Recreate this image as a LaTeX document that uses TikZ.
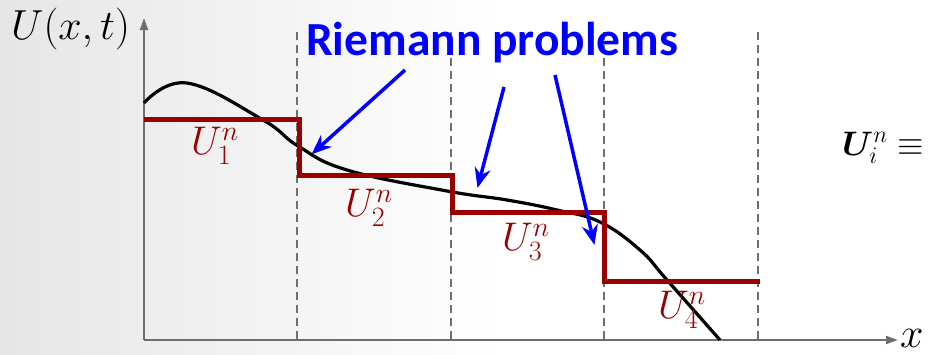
\RequirePackage{fix-cm}
\documentclass[tikz,border=0pt]{standalone}
\usepackage{amsmath,bm}
\usepackage{fontspec}
\newfontfamily\rpfont{Carlito}
\definecolor{cellred}{HTML}{9A0000}
\definecolor{rpblue}{HTML}{0000FF}
\definecolor{axgray}{HTML}{6E6E6E}
\usetikzlibrary{arrows.meta,calc}
\tikzset{
  ax_arr/.style={-{Triangle[length=12pt,width=8pt]},draw=axgray,line width=2pt},
  cell_dash/.style={draw=axgray,line width=1.8pt,dash pattern=on 8pt off 5pt},
  stair/.style={draw=cellred,line width=5pt,line join=miter},
  curve_ln/.style={draw=black,line width=3.2pt},
  cell_lbl/.style={text=cellred,inner sep=0pt,font=\fontsize{40}{44}\selectfont},
  rp_lbl/.style={text=rpblue,inner sep=0pt,font=\fontsize{47.5}{50}\selectfont\rpfont\bfseries},
  arr_rp/.style={-{Stealth[length=20pt,width=16pt]},draw=rpblue,line width=3.5pt,shorten >=-2pt},
}

\begin{document}
\begin{tikzpicture}[x=1pt,y=-1pt]
  \useasboundingbox (0,0) rectangle (934,354);
  \shade[left color=black!10,right color=white] (0,0) rectangle (500,354);
  \fill[white] (500,0) rectangle (934,354);

  % axes
  \coordinate (o) at (144,340);
  \coordinate (ytip) at (144,18);
  \coordinate (xtip) at (898,340);
  \draw[ax_arr] (o) -- (ytip);
  \draw[ax_arr] (o) -- (xtip);
  \node[inner sep=0pt,anchor=base west,font=\fontsize{42}{46}\selectfont] (ylab) at (11,39) {$U(x,t)$};
  \node[inner sep=0pt,anchor=base west,font=\fontsize{42}{46}\selectfont] (xlab) at (900,347) {$x$};

  % cell interfaces
  \foreach \xi in {297,451,604,758}
    \draw[cell_dash] (\xi,32) -- (\xi,340);

  % exact solution
  \draw[curve_ln] plot[smooth,tension=0.7] coordinates {(144,103) (187,83) (263,120) (298,146)
    (347,170) (447,191) (507,200) (557,210) (600,222) (640,250) (667,280) (720,340)};

  % cell averages
  \draw[stair] (144,119) -- (299,119) -- (299,175) -- (452,175) -- (452,212)
    -- (604,212) -- (604,281) -- (760,281);
  \node[cell_lbl] (c1) at (215,146) {$U_1^n$};
  \node[cell_lbl] (c2) at (369,208) {$U_2^n$};
  \node[cell_lbl] (c3) at (526,242) {$U_3^n$};
  \node[cell_lbl] (c4) at (682,310) {$U_4^n$};

  % Riemann problems
  \node[rp_lbl,anchor=base west] (rp) at (306,55) {Riemann problems};
  \coordinate (s1) at (405,70);  \coordinate (t1) at (313,153);
  \coordinate (s2) at (504,87);  \coordinate (t2) at (478,186);
  \coordinate (s3) at (555,75);  \coordinate (t3) at (594,243);
  \draw[arr_rp] (s1) -- (t1);
  \draw[arr_rp] (s2) -- (t2);
  \draw[arr_rp] (s3) -- (t3);

  \node[inner sep=0pt,anchor=base west,font=\fontsize{34}{38}\selectfont] (ui) at (842,155) {$\boldsymbol{U}_i^n \equiv$};
\end{tikzpicture}
\end{document}
